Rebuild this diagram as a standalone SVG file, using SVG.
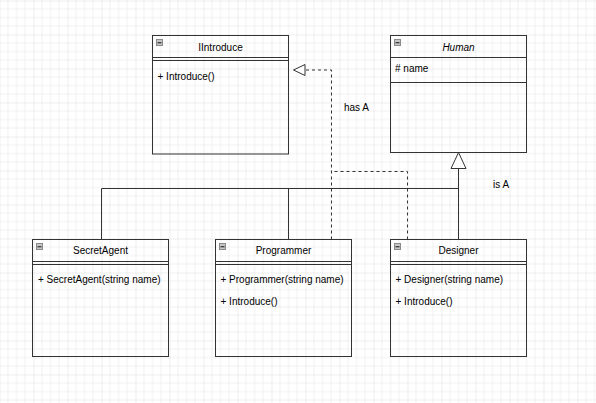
<svg xmlns="http://www.w3.org/2000/svg" width="596" height="403" viewBox="0 0 596 403">
<defs>
<pattern id="grid" x="33.5" y="34.5" width="34" height="34" patternUnits="userSpaceOnUse">
<path d="M8.5 0V34M17 0V34M25.5 0V34M0 8.5H34M0 17H34M0 25.5H34" stroke="#f0f0f0" stroke-width="1" fill="none"/>
<path d="M0 0V34M0 0H34" stroke="#dedede" stroke-width="1" fill="none"/>
</pattern>
<g id="icon">
<rect x="0.5" y="0.5" width="6" height="6" fill="#c6c6c6" stroke="#8a8a8a"/>
<rect x="1.5" y="3" width="4" height="1.4" fill="#444"/>
</g>
</defs>
<style>
.box{fill:none;stroke:#333;stroke-width:1}
.ln{stroke:#333;stroke-width:1;fill:none}
.dash{stroke:#333;stroke-width:1;fill:none;stroke-dasharray:3 3}
.t{font-family:"Liberation Sans",Arial,sans-serif;font-size:10px;fill:#000}
.c{text-anchor:middle}
.i{font-style:italic}
</style>
<rect x="0" y="0" width="596" height="403" fill="#ffffff"/>
<rect x="0" y="0" width="596" height="403" fill="url(#grid)"/>

<g id="connectors">
<polygon points="458.5,152.5 451,168.5 466,168.5" fill="#fff" stroke="#333" stroke-width="1"/>
<path class="ln" d="M458.5 168.5V239.5M101.5 239.5V188.5H458.5M288.5 188.5V239.5"/>
<path class="dash" d="M331.5 239.5V70H305"/>
<path class="dash" d="M407.5 239.5V171.5H331.5"/>
<polygon points="293.5,70 305,64.5 305,75.5" fill="#fff" stroke="#333" stroke-width="1"/>
<text class="t" x="344" y="111">has A</text>
<text class="t" x="493" y="187.5">is A</text>
</g>

<g id="IIntroduce">
<rect class="box" x="152.5" y="35.5" width="136" height="118.5"/>
<path class="ln" d="M152.5 57.5H288.5M152.5 60.5H288.5"/>
<use href="#icon" x="156" y="39"/>
<text class="t c" x="220.5" y="50.5">IIntroduce</text>
<text class="t" x="157.5" y="79.5">+ Introduce()</text>
</g>

<g id="Human">
<rect class="box" x="390.5" y="35.5" width="136" height="117"/>
<path class="ln" d="M390.5 57.5H526.5M390.5 82.5H526.5"/>
<use href="#icon" x="394" y="39"/>
<text class="t c i" x="458.5" y="50.5">Human</text>
<text class="t" x="395" y="72">#  name</text>
</g>

<g id="SecretAgent">
<rect class="box" x="32.5" y="239.5" width="136" height="117"/>
<path class="ln" d="M32.5 261.5H168.5M32.5 264.5H168.5"/>
<use href="#icon" x="36" y="243"/>
<text class="t c" x="100.5" y="254">SecretAgent</text>
<text class="t" x="38" y="283">+ SecretAgent(string name)</text>
</g>

<g id="Programmer">
<rect class="box" x="215.5" y="239.5" width="136" height="117"/>
<path class="ln" d="M215.5 261.5H351.5M215.5 264.5H351.5"/>
<use href="#icon" x="219" y="243"/>
<text class="t c" x="283.5" y="254">Programmer</text>
<text class="t" x="220.5" y="283">+ Programmer(string name)</text>
<text class="t" x="220.5" y="305">+ Introduce()</text>
</g>

<g id="Designer">
<rect class="box" x="390.5" y="239.5" width="136" height="117"/>
<path class="ln" d="M390.5 261.5H526.5M390.5 264.5H526.5"/>
<use href="#icon" x="394" y="243"/>
<text class="t c" x="458.5" y="254">Designer</text>
<text class="t" x="395.5" y="283">+ Designer(string name)</text>
<text class="t" x="395.5" y="305">+ Introduce()</text>
</g>
</svg>
